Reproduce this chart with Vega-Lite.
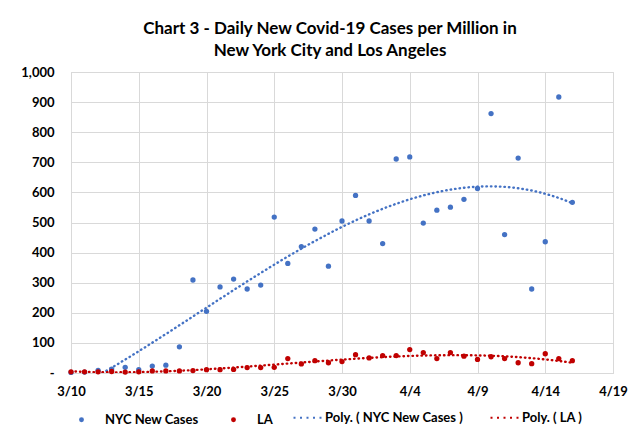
{
  "$schema": "https://vega.github.io/schema/vega-lite/v6.json",
  "autosize": "none",
  "width": 542,
  "height": 301,
  "padding": {"left": 71, "top": 72, "right": 22, "bottom": 59},
  "background": "white",
  "title": {
    "text": ["Chart 3 - Daily New Covid-19 Cases per Million in", "New York City and Los Angeles"],
    "font": "Lato",
    "fontSize": 17,
    "fontWeight": "bold",
    "color": "#000000",
    "anchor": "middle",
    "dx": -12,
    "offset": 6,
    "lineHeight": 22
  },
  "config": {
    "view": {"stroke": "#D9D9D9", "strokeWidth": 1},
    "font": "Lato"
  },
  "resolve": {"legend": {"color": "independent"}},
  "datasets": {
    "cases": [
      {"day": 0, "series": "NYC New Cases", "trend": "Poly. ( NYC New Cases )", "value": 2},
      {"day": 1, "series": "NYC New Cases", "trend": "Poly. ( NYC New Cases )", "value": 3},
      {"day": 2, "series": "NYC New Cases", "trend": "Poly. ( NYC New Cases )", "value": 9},
      {"day": 3, "series": "NYC New Cases", "trend": "Poly. ( NYC New Cases )", "value": 13},
      {"day": 4, "series": "NYC New Cases", "trend": "Poly. ( NYC New Cases )", "value": 19},
      {"day": 5, "series": "NYC New Cases", "trend": "Poly. ( NYC New Cases )", "value": 11},
      {"day": 6, "series": "NYC New Cases", "trend": "Poly. ( NYC New Cases )", "value": 23},
      {"day": 7, "series": "NYC New Cases", "trend": "Poly. ( NYC New Cases )", "value": 26},
      {"day": 8, "series": "NYC New Cases", "trend": "Poly. ( NYC New Cases )", "value": 87},
      {"day": 9, "series": "NYC New Cases", "trend": "Poly. ( NYC New Cases )", "value": 309},
      {"day": 10, "series": "NYC New Cases", "trend": "Poly. ( NYC New Cases )", "value": 205},
      {"day": 11, "series": "NYC New Cases", "trend": "Poly. ( NYC New Cases )", "value": 286},
      {"day": 12, "series": "NYC New Cases", "trend": "Poly. ( NYC New Cases )", "value": 312},
      {"day": 13, "series": "NYC New Cases", "trend": "Poly. ( NYC New Cases )", "value": 279},
      {"day": 14, "series": "NYC New Cases", "trend": "Poly. ( NYC New Cases )", "value": 292},
      {"day": 15, "series": "NYC New Cases", "trend": "Poly. ( NYC New Cases )", "value": 518},
      {"day": 16, "series": "NYC New Cases", "trend": "Poly. ( NYC New Cases )", "value": 364},
      {"day": 17, "series": "NYC New Cases", "trend": "Poly. ( NYC New Cases )", "value": 420},
      {"day": 18, "series": "NYC New Cases", "trend": "Poly. ( NYC New Cases )", "value": 478},
      {"day": 19, "series": "NYC New Cases", "trend": "Poly. ( NYC New Cases )", "value": 355},
      {"day": 20, "series": "NYC New Cases", "trend": "Poly. ( NYC New Cases )", "value": 505},
      {"day": 21, "series": "NYC New Cases", "trend": "Poly. ( NYC New Cases )", "value": 590},
      {"day": 22, "series": "NYC New Cases", "trend": "Poly. ( NYC New Cases )", "value": 505},
      {"day": 23, "series": "NYC New Cases", "trend": "Poly. ( NYC New Cases )", "value": 430},
      {"day": 24, "series": "NYC New Cases", "trend": "Poly. ( NYC New Cases )", "value": 711},
      {"day": 25, "series": "NYC New Cases", "trend": "Poly. ( NYC New Cases )", "value": 718},
      {"day": 26, "series": "NYC New Cases", "trend": "Poly. ( NYC New Cases )", "value": 498},
      {"day": 27, "series": "NYC New Cases", "trend": "Poly. ( NYC New Cases )", "value": 541},
      {"day": 28, "series": "NYC New Cases", "trend": "Poly. ( NYC New Cases )", "value": 551},
      {"day": 29, "series": "NYC New Cases", "trend": "Poly. ( NYC New Cases )", "value": 577},
      {"day": 30, "series": "NYC New Cases", "trend": "Poly. ( NYC New Cases )", "value": 613},
      {"day": 31, "series": "NYC New Cases", "trend": "Poly. ( NYC New Cases )", "value": 862},
      {"day": 32, "series": "NYC New Cases", "trend": "Poly. ( NYC New Cases )", "value": 460},
      {"day": 33, "series": "NYC New Cases", "trend": "Poly. ( NYC New Cases )", "value": 714},
      {"day": 34, "series": "NYC New Cases", "trend": "Poly. ( NYC New Cases )", "value": 279},
      {"day": 35, "series": "NYC New Cases", "trend": "Poly. ( NYC New Cases )", "value": 436},
      {"day": 36, "series": "NYC New Cases", "trend": "Poly. ( NYC New Cases )", "value": 917},
      {"day": 37, "series": "NYC New Cases", "trend": "Poly. ( NYC New Cases )", "value": 567},
      {"day": 0, "series": "LA", "trend": "Poly. ( LA )", "value": 4},
      {"day": 1, "series": "LA", "trend": "Poly. ( LA )", "value": 4},
      {"day": 2, "series": "LA", "trend": "Poly. ( LA )", "value": 4},
      {"day": 3, "series": "LA", "trend": "Poly. ( LA )", "value": 5},
      {"day": 4, "series": "LA", "trend": "Poly. ( LA )", "value": 3},
      {"day": 5, "series": "LA", "trend": "Poly. ( LA )", "value": 4},
      {"day": 6, "series": "LA", "trend": "Poly. ( LA )", "value": 7},
      {"day": 7, "series": "LA", "trend": "Poly. ( LA )", "value": 7},
      {"day": 8, "series": "LA", "trend": "Poly. ( LA )", "value": 7},
      {"day": 9, "series": "LA", "trend": "Poly. ( LA )", "value": 8},
      {"day": 10, "series": "LA", "trend": "Poly. ( LA )", "value": 11},
      {"day": 11, "series": "LA", "trend": "Poly. ( LA )", "value": 11},
      {"day": 12, "series": "LA", "trend": "Poly. ( LA )", "value": 12},
      {"day": 13, "series": "LA", "trend": "Poly. ( LA )", "value": 18},
      {"day": 14, "series": "LA", "trend": "Poly. ( LA )", "value": 18},
      {"day": 15, "series": "LA", "trend": "Poly. ( LA )", "value": 19},
      {"day": 16, "series": "LA", "trend": "Poly. ( LA )", "value": 48},
      {"day": 17, "series": "LA", "trend": "Poly. ( LA )", "value": 30},
      {"day": 18, "series": "LA", "trend": "Poly. ( LA )", "value": 41},
      {"day": 19, "series": "LA", "trend": "Poly. ( LA )", "value": 34},
      {"day": 20, "series": "LA", "trend": "Poly. ( LA )", "value": 38},
      {"day": 21, "series": "LA", "trend": "Poly. ( LA )", "value": 61},
      {"day": 22, "series": "LA", "trend": "Poly. ( LA )", "value": 50},
      {"day": 23, "series": "LA", "trend": "Poly. ( LA )", "value": 58},
      {"day": 24, "series": "LA", "trend": "Poly. ( LA )", "value": 58},
      {"day": 25, "series": "LA", "trend": "Poly. ( LA )", "value": 78},
      {"day": 26, "series": "LA", "trend": "Poly. ( LA )", "value": 68},
      {"day": 27, "series": "LA", "trend": "Poly. ( LA )", "value": 48},
      {"day": 28, "series": "LA", "trend": "Poly. ( LA )", "value": 68},
      {"day": 29, "series": "LA", "trend": "Poly. ( LA )", "value": 56},
      {"day": 30, "series": "LA", "trend": "Poly. ( LA )", "value": 45},
      {"day": 31, "series": "LA", "trend": "Poly. ( LA )", "value": 54},
      {"day": 32, "series": "LA", "trend": "Poly. ( LA )", "value": 48},
      {"day": 33, "series": "LA", "trend": "Poly. ( LA )", "value": 34},
      {"day": 34, "series": "LA", "trend": "Poly. ( LA )", "value": 31},
      {"day": 35, "series": "LA", "trend": "Poly. ( LA )", "value": 64},
      {"day": 36, "series": "LA", "trend": "Poly. ( LA )", "value": 48},
      {"day": 37, "series": "LA", "trend": "Poly. ( LA )", "value": 41}
    ]
  },
  "data": {"name": "cases"},
  "encoding": {
    "x": {
      "field": "day",
      "type": "quantitative",
      "scale": {"domain": [0, 40], "nice": false, "zero": false},
      "axis": {
        "title": null,
        "values": [0, 5, 10, 15, 20, 25, 30, 35, 40],
        "labelExpr": "timeFormat(datetime(2020, 2, 10 + datum.value), '%-m/%-d')",
        "grid": true,
        "gridColor": "#D9D9D9",
        "domainColor": "#D9D9D9",
        "ticks": false,
        "labelFont": "Lato",
        "labelFontSize": 13,
        "labelFontWeight": "bold",
        "labelColor": "#000000",
        "labelPadding": 12,
        "labelFlush": false
      }
    },
    "y": {
      "field": "value",
      "type": "quantitative",
      "scale": {"domain": [0, 1000], "nice": false},
      "axis": {
        "title": null,
        "values": [0, 100, 200, 300, 400, 500, 600, 700, 800, 900, 1000],
        "labelExpr": "datum.value == 0 ? '-\u00a0\u00a0\u00a0' : format(datum.value, ',')",
        "grid": true,
        "gridColor": "#D9D9D9",
        "domainColor": "#D9D9D9",
        "ticks": false,
        "labelFont": "Lato",
        "labelFontSize": 13,
        "labelFontWeight": "bold",
        "labelColor": "#000000",
        "labelPadding": 17
      }
    }
  },
  "layer": [
    {
      "transform": [
        {"regression": "value", "on": "day", "method": "poly", "order": 3, "groupby": ["series", "trend"]}
      ],
      "mark": {"type": "line", "clip": true, "strokeDash": [0.5, 4], "strokeCap": "round", "strokeWidth": 2.4},
      "encoding": {
        "color": {
          "field": "trend",
          "type": "nominal",
          "scale": {"domain": ["NYC New Cases", "LA", "Poly. ( NYC New Cases )", "Poly. ( LA )"], "range": ["#4472C4", "#C00000", "#4472C4", "#C00000"]},
          "legend": {
            "title": null,
            "orient": "none",
            "direction": "horizontal",
            "legendX": 221,
            "legendY": 330,
            "values": ["Poly. ( NYC New Cases )", "Poly. ( LA )"],
            "symbolType": "stroke",
            "symbolSize": 784,
            "symbolStrokeWidth": 2.2,
            "symbolDash": [2, 4.5],
            "labelFont": "Lato",
            "labelFontSize": 13,
            "labelFontWeight": "bold",
            "labelColor": "#000000",
            "labelOffset": 2,
            "columnPadding": 22
          }
        },
        "detail": {"field": "series"}
      }
    },
    {
      "mark": {"type": "point", "filled": true, "opacity": 1, "size": 28, "shape": "circle"},
      "encoding": {
        "color": {
          "field": "series",
          "type": "nominal",
          "scale": {"domain": ["NYC New Cases", "LA", "Poly. ( NYC New Cases )", "Poly. ( LA )"], "range": ["#4472C4", "#C00000", "#4472C4", "#C00000"]},
          "legend": {
            "title": null,
            "orient": "none",
            "direction": "horizontal",
            "legendX": 4,
            "legendY": 341,
            "values": ["NYC New Cases", "LA"],
            "symbolType": "circle",
            "symbolSize": 24,
            "symbolStrokeWidth": 0,
            "symbolOpacity": 1,
            "labelFont": "Lato",
            "labelFontSize": 13,
            "labelFontWeight": "bold",
            "labelColor": "#000000",
            "labelOffset": 17,
            "columnPadding": 28
          }
        }
      }
    }
  ]
}
